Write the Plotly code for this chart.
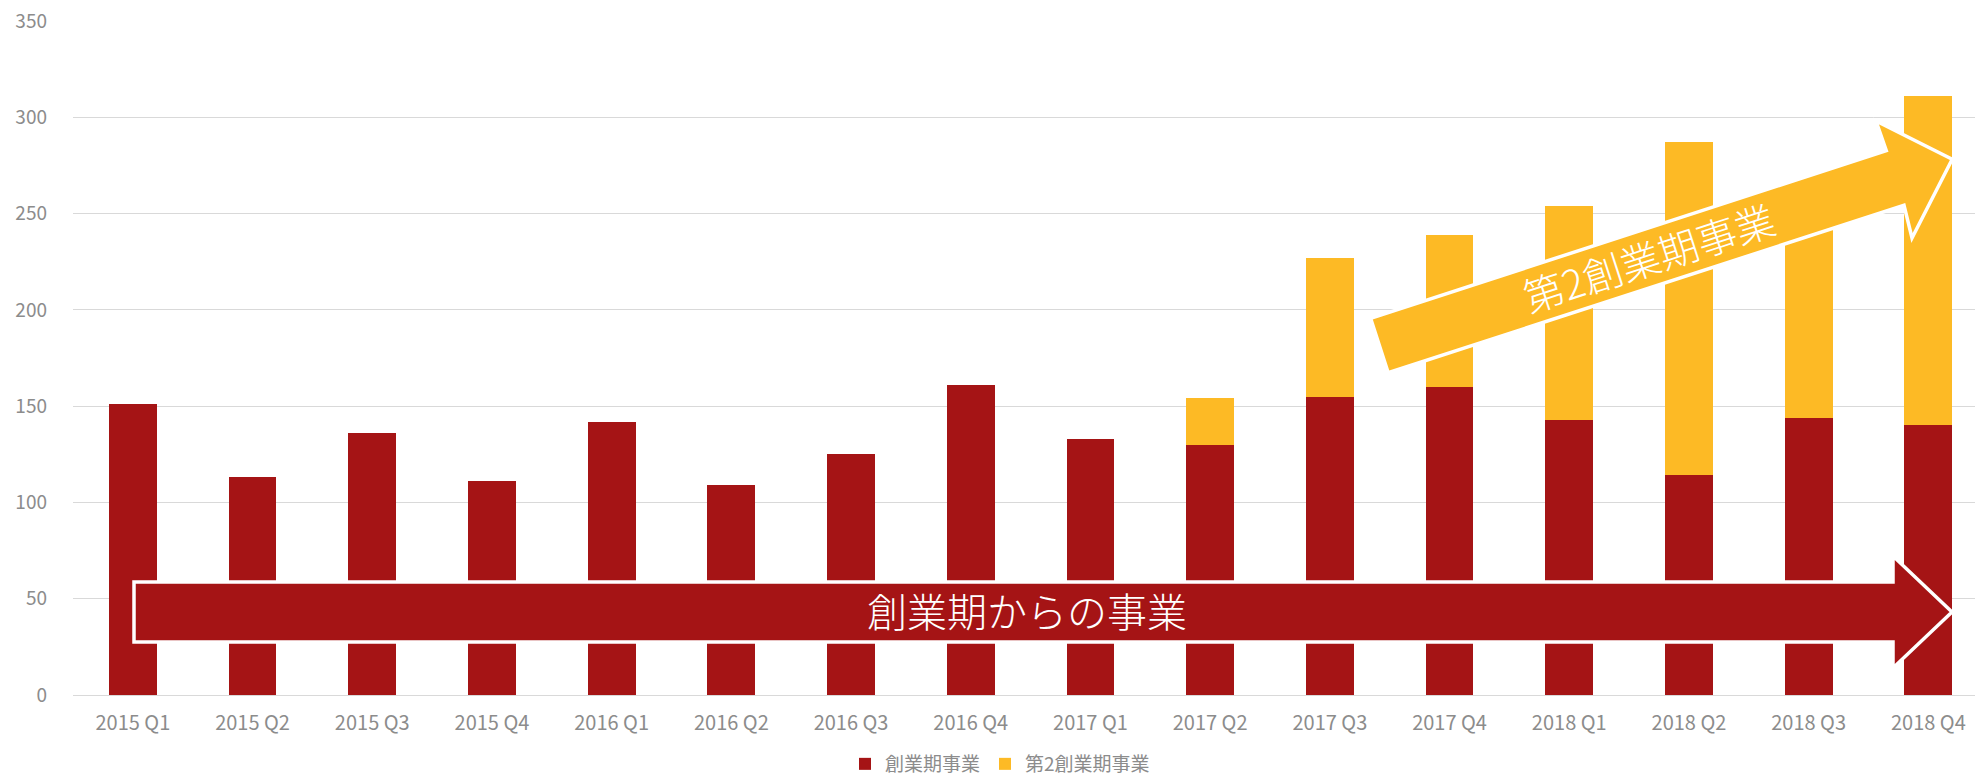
import plotly.graph_objects as go

categories = ["2015 Q1", "2015 Q2", "2015 Q3", "2015 Q4",
              "2016 Q1", "2016 Q2", "2016 Q3", "2016 Q4",
              "2017 Q1", "2017 Q2", "2017 Q3", "2017 Q4",
              "2018 Q1", "2018 Q2", "2018 Q3", "2018 Q4"]
founding = [151, 113, 136, 111, 142, 109, 125, 161, 133, 130, 155, 160, 143, 114, 144, 140]
second = [0, 0, 0, 0, 0, 0, 0, 0, 0, 24, 72, 79, 111, 173, 101, 171]
y_ticks = [0, 50, 100, 150, 200, 250, 300, 350]

RED = "#A51415"
YEL = "#FDBA25"
GRAY = "#8C8C8C"

W, H = 1975, 779
L, R, T, B = 73, 0, 21, 84
PW, PH = W - L - R, H - T - B


def px(x, y):
    # pixel -> paper coordinates (decoration only)
    return (x - L) / PW, (H - B - y) / PH


def path(points):
    pts = [px(*p) for p in points]
    return "M " + " L ".join(f"{a:.5f},{b:.5f}" for a, b in pts) + " Z"


fig = go.Figure()
fig.add_trace(go.Bar(x=categories, y=founding, name="創業期事業",
                     marker=dict(color=RED, line=dict(width=0)), width=0.4))
fig.add_trace(go.Bar(x=categories, y=second, name="第2創業期事業",
                     marker=dict(color=YEL, line=dict(width=0)), width=0.4))

red_arrow = [(134, 582), (1893, 582), (1893, 556), (1952, 612),
             (1893, 668), (1893, 642), (134, 642)]
yel_arrow = [(1370.6, 318.3), (1886.3, 150.7), (1876, 121), (1952.2, 159.3),
             (1912, 238), (1904, 205.3), (1388.2, 372.7)]

shapes = [
    dict(type="path", xref="paper", yref="paper", path=path(yel_arrow),
         fillcolor=YEL, line=dict(color="white", width=3.5), layer="above"),
    dict(type="path", xref="paper", yref="paper", path=path(red_arrow),
         fillcolor=RED, line=dict(color="white", width=3.5), layer="above"),
]

FONT = "Noto Sans CJK JP, Noto Sans, sans-serif"
ax1, ay1 = px(1027, 610)
ax2, ay2 = px(1648, 257)
annotations = [
    dict(x=ax1, y=ay1, xref="paper", yref="paper", text="創業期からの事業",
         showarrow=False, xanchor="center", yanchor="middle",
         font=dict(family=FONT, size=40, color="white", weight=300)),
    dict(x=ax2, y=ay2, xref="paper", yref="paper", text="第2創業期事業",
         showarrow=False, xanchor="center", yanchor="middle", textangle=-18,
         font=dict(family=FONT, size=40, color="white", weight=300)),
]

lx, ly = px(1000, 764)
fig.update_layout(
    width=W, height=H,
    margin=dict(l=L, r=R, t=T, b=B, pad=0, autoexpand=False),
    barmode="stack",
    plot_bgcolor="white", paper_bgcolor="white",
    font=dict(family=FONT, color=GRAY, size=19),
    shapes=shapes, annotations=annotations,
    showlegend=True,
    legend=dict(orientation="h", x=lx, y=ly, xanchor="center", yanchor="middle",
                traceorder="normal", font=dict(size=19, color=GRAY, family=FONT),
                itemwidth=30),
    xaxis=dict(range=[-0.5, -0.5 + PW / 119.7], showgrid=False, zeroline=False,
               ticks="", showline=False, tickfont=dict(size=20, color=GRAY),
               ticklabelstandoff=14),
    yaxis=dict(range=[0, 350], tickvals=y_ticks, showgrid=True, gridcolor="#D9D9D9",
               gridwidth=1.3, zeroline=True, zerolinecolor="#D9D9D9", zerolinewidth=1.3,
               ticks="", showline=False, tickfont=dict(size=19, color=GRAY),
               ticklabelstandoff=25),
)

fig.write_html("out.html", config={"displayModeBar": False},
               post_script="document.body.style.margin='0';document.body.style.overflow='hidden';")
